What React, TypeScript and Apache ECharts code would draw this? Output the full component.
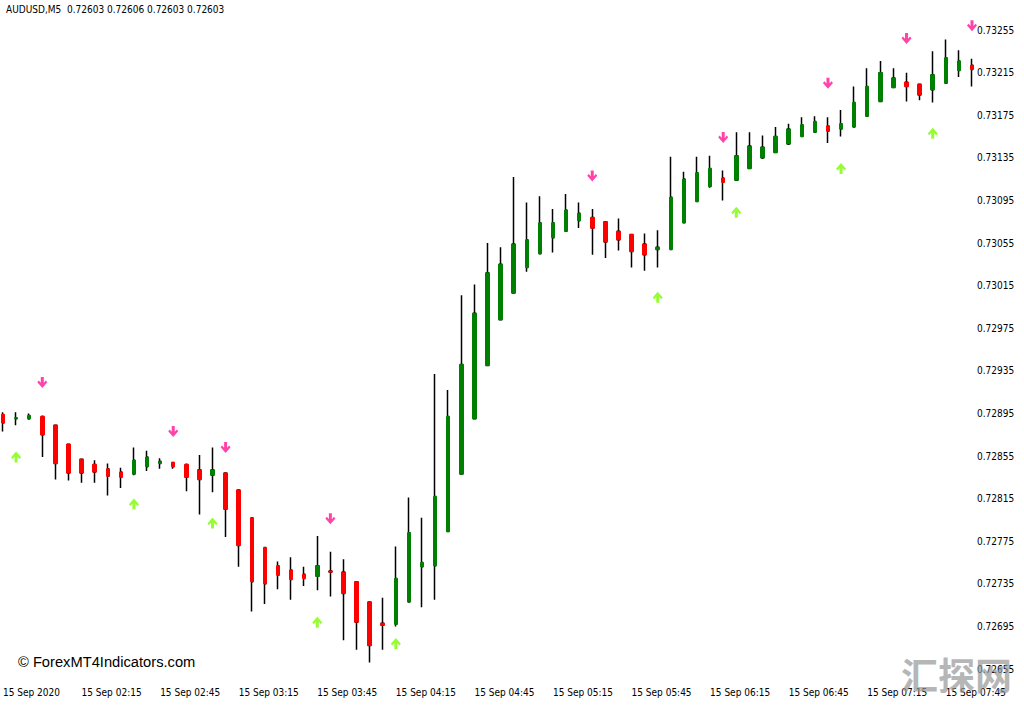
import React, { useEffect, useRef } from "react";
import * as echarts from "echarts";

// 5-minute candles, 15 Sep 2020
const times = [
  "01:45", "01:50", "01:55",
  "02:00", "02:05", "02:10", "02:15", "02:20", "02:25", "02:30", "02:35", "02:40", "02:45", "02:50", "02:55",
  "03:00", "03:05", "03:10", "03:15", "03:20", "03:25", "03:30", "03:35", "03:40", "03:45", "03:50", "03:55",
  "04:00", "04:05", "04:10", "04:15", "04:20", "04:25", "04:30", "04:35", "04:40", "04:45", "04:50", "04:55",
  "05:00", "05:05", "05:10", "05:15", "05:20", "05:25", "05:30", "05:35", "05:40", "05:45", "05:50", "05:55",
  "06:00", "06:05", "06:10", "06:15", "06:20", "06:25", "06:30", "06:35", "06:40", "06:45", "06:50", "06:55",
  "07:00", "07:05", "07:10", "07:15", "07:20", "07:25", "07:30", "07:35", "07:40", "07:45", "07:50", "07:55",
];

const opens = [
  0.72894, 0.72890, 0.72890, 0.72892, 0.72884, 0.72866, 0.72852, 0.72847, 0.72843, 0.72840,
  0.72838, 0.72845, 0.72848, 0.72849, 0.72847, 0.72842, 0.72837, 0.72839, 0.72823, 0.72797,
  0.72769, 0.72752, 0.72748, 0.72744, 0.72742, 0.72747, 0.72746, 0.72737, 0.72718, 0.72698,
  0.72697, 0.72718, 0.72751, 0.72752, 0.72784, 0.72838, 0.72890, 0.72940, 0.72983, 0.73008,
  0.73032, 0.73045, 0.73060, 0.73066, 0.73076, 0.73079, 0.73075, 0.73066, 0.73063, 0.73054,
  0.73049, 0.73049, 0.73074, 0.73094, 0.73108, 0.73116, 0.73114, 0.73125, 0.73135, 0.73140,
  0.73148, 0.73155, 0.73159, 0.73165, 0.73162, 0.73164, 0.73174, 0.73188, 0.73201, 0.73206,
  0.73204, 0.73199, 0.73205, 0.73217, 0.73222,
];
const closes = [
  0.72886, 0.72891, 0.72893, 0.72875, 0.72848, 0.72839, 0.72839, 0.72840, 0.72836, 0.72835,
  0.72851, 0.72854, 0.72850, 0.72845, 0.72835, 0.72833, 0.72842, 0.72805, 0.72771, 0.72737,
  0.72735, 0.72743, 0.72739, 0.72740, 0.72752, 0.72746, 0.72726, 0.72699, 0.72677, 0.72696,
  0.72740, 0.72783, 0.72755, 0.72817, 0.72892, 0.72941, 0.72989, 0.73027, 0.73035, 0.73054,
  0.73058, 0.73074, 0.73074, 0.73086, 0.73083, 0.73069, 0.73056, 0.73058, 0.73047, 0.73044,
  0.73051, 0.73098, 0.73115, 0.73121, 0.73125, 0.73112, 0.73137, 0.73146, 0.73145, 0.73155,
  0.73162, 0.73166, 0.73169, 0.73160, 0.73167, 0.73187, 0.73202, 0.73215, 0.73210, 0.73202,
  0.73194, 0.73213, 0.73229, 0.73226, 0.73218,
];
const lows = [
  0.72878, 0.72884, 0.72889, 0.72854, 0.72833, 0.72832, 0.72830, 0.72830, 0.72818, 0.72825,
  0.72837, 0.72841, 0.72843, 0.72843, 0.72822, 0.72800, 0.72821, 0.72779, 0.72751, 0.72709,
  0.72716, 0.72730, 0.72720, 0.72733, 0.72729, 0.72723, 0.72682, 0.72673, 0.72661, 0.72673,
  0.72695, 0.72718, 0.72713, 0.72720, 0.72784, 0.72838, 0.72890, 0.72940, 0.72983, 0.73008,
  0.73028, 0.73045, 0.73046, 0.73066, 0.73069, 0.73044, 0.73041, 0.73048, 0.73032, 0.73029,
  0.73032, 0.73049, 0.73074, 0.73094, 0.73107, 0.73095, 0.73114, 0.73125, 0.73134, 0.73140,
  0.73147, 0.73155, 0.73159, 0.73149, 0.73155, 0.73164, 0.73174, 0.73188, 0.73201, 0.73188,
  0.73189, 0.73187, 0.73205, 0.73211, 0.73202,
];
const highs = [
  0.72896, 0.72896, 0.72895, 0.72893, 0.72884, 0.72866, 0.72852, 0.72851, 0.72848, 0.72844,
  0.72863, 0.72860, 0.72853, 0.72849, 0.72848, 0.72856, 0.72863, 0.72839, 0.72823, 0.72797,
  0.72769, 0.72756, 0.72760, 0.72751, 0.72780, 0.72765, 0.72758, 0.72737, 0.72718, 0.72722,
  0.72770, 0.72816, 0.72797, 0.72932, 0.72917, 0.73006, 0.73016, 0.73055, 0.73051, 0.73117,
  0.73093, 0.73099, 0.73087, 0.73101, 0.73093, 0.73087, 0.73075, 0.73078, 0.73063, 0.73064,
  0.73067, 0.73136, 0.73122, 0.73136, 0.73137, 0.73123, 0.73159, 0.73159, 0.73156, 0.73164,
  0.73167, 0.73173, 0.73174, 0.73173, 0.73180, 0.73202, 0.73219, 0.73226, 0.73219, 0.73215,
  0.73204, 0.73235, 0.73246, 0.73236, 0.73228,
];

// signal arrows: [candle index, price]
const sellSignals = [
  [3, 0.72924], [13, 0.72878], [17, 0.72863], [25, 0.72796], [45, 0.73118],
  [55, 0.73154], [63, 0.73205], [69, 0.73247], [74, 0.73259],
];
const buySignals = [
  [1, 0.72854], [10, 0.72810], [16, 0.72792], [24, 0.72699], [30, 0.72679],
  [50, 0.73004], [56, 0.73084], [64, 0.73125], [71, 0.73158],
];

const priceMin = 0.72655;
const priceMax = 0.732832;
const priceStep = 0.0004;

const titleText = "AUDUSD,M5  0.72603 0.72606 0.72603 0.72603";
const dateLabel = "15 Sep 2020";
const dayPrefix = "15 Sep ";

const FONT = "'DejaVu Sans Condensed', 'DejaVu Sans', sans-serif";

const DOWN_ARROW = "path://M3.5,0 H6.5 V5 L8.5,3 L10,4.5 L5,9.5 L0,4.5 L1.5,3 L3.5,5 Z";
const UP_ARROW = "path://M3.5,10 H6.5 V5 L8.5,7 L10,5.5 L5,0.5 L0,5.5 L1.5,7 L3.5,5 Z";

export default function App() {
  const ref = useRef<HTMLDivElement>(null);

  useEffect(() => {
    if (!ref.current) return;
    const chart = echarts.init(ref.current, undefined, { renderer: "svg" });

    const wickData = times.map((_, i) => [opens[i], closes[i], lows[i], highs[i]]);
    const bodyData = times.map((_, i) => [
      opens[i],
      closes[i],
      Math.min(opens[i], closes[i]),
      Math.max(opens[i], closes[i]),
    ]);

    const option: any = {
      animation: false,
      backgroundColor: "#ffffff",
      grid: { left: 3, right: 52, top: 0, bottom: 36, containLabel: false },
      xAxis: {
        type: "category",
        data: times,
        boundaryGap: false,
        axisLine: { show: false },
        axisTick: { show: false },
        splitLine: { show: false },
        axisLabel: {
          interval: 5,
          align: "left",
          margin: 18,
          fontSize: 10,
          fontFamily: FONT,
          color: "#000",
          formatter: (v: string, i: number) => (i === 0 ? dateLabel : dayPrefix + v),
        },
      },
      yAxis: {
        type: "value",
        position: "right",
        min: priceMin,
        max: priceMax,
        interval: priceStep,
        axisLine: { show: false },
        axisTick: { show: false },
        splitLine: { show: false },
        axisLabel: {
          margin: 5,
          fontSize: 10,
          fontFamily: FONT,
          color: "#000",
          formatter: (v: number) => (v > 0.73256 ? "" : v.toFixed(5)),
        },
      },
      series: [
        {
          type: "candlestick",
          data: wickData,
          barWidth: 2,
          clip: false,
          silent: true,
          itemStyle: {
            color: "#000",
            color0: "#000",
            borderColor: "#000",
            borderColor0: "#000",
            borderWidth: 1.5,
          },
          z: 2,
        },
        {
          type: "candlestick",
          data: bodyData,
          barWidth: 4,
          clip: false,
          silent: true,
          itemStyle: {
            color: "#008000",
            color0: "#ff0000",
            borderColor: "#008000",
            borderColor0: "#ff0000",
            borderWidth: 1,
          },
          z: 3,
        },
        {
          type: "scatter",
          data: sellSignals,
          symbol: DOWN_ARROW,
          symbolSize: [10, 11],
          silent: true,
          clip: false,
          itemStyle: { color: "#ff1493" },
          z: 4,
        },
        {
          type: "scatter",
          data: buySignals,
          symbol: UP_ARROW,
          symbolSize: [10, 11],
          silent: true,
          clip: false,
          itemStyle: { color: "#7cfc00" },
          z: 4,
        },
      ],
      graphic: [
        {
          type: "text",
          left: 6,
          top: 4,
          style: { text: titleText, fontSize: 10, fontFamily: FONT, fill: "#000" },
          z: 10,
        },
        {
          type: "text",
          left: 18,
          top: 654,
          style: {
            text: "© ForexMT4Indicators.com",
            fontSize: 14.7,
            fontFamily: "'Liberation Sans', Arial, sans-serif",
            fill: "#000",
          },
          z: 10,
        },
        {
          type: "text",
          left: 901,
          top: 655,
          style: {
            text: "汇探网",
            fontSize: 37,
            fontWeight: "bold",
            fontFamily: "'Noto Sans CJK SC', sans-serif",
            fill: "rgba(150,150,150,0.7)",
          },
          z: 20,
        },
      ],
    };

    chart.setOption(option);
    return () => chart.dispose();
  }, []);

  return (
    <div
      ref={ref}
      style={{ position: "fixed", left: 0, top: 0, width: 1024, height: 705, background: "#fff" }}
    />
  );
}
